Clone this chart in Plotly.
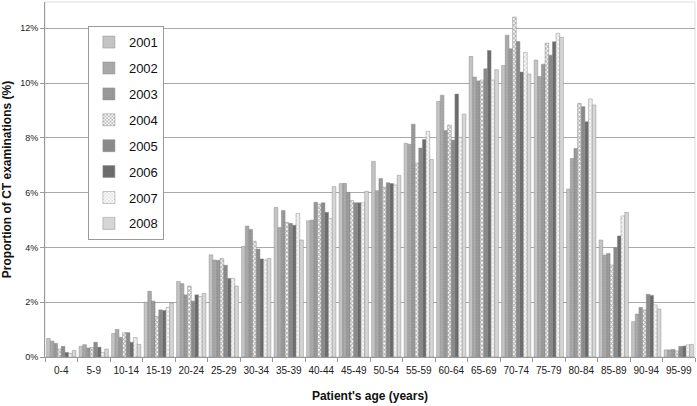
import plotly.graph_objects as go

# --- Datos ---
grupos_edad = ["0-4", "5-9", "10-14", "15-19", "20-24", "25-29", "30-34", "35-39", "40-44", "45-49",
               "50-54", "55-59", "60-64", "65-69", "70-74", "75-79", "80-84", "85-89", "90-94", "95-99"]

y2001 = [0.68, 0.39, 0.86, 2.00, 2.76, 3.73, 4.04, 5.46, 4.97, 6.33, 7.14, 7.80, 9.33, 10.97, 10.64, 10.84, 6.13, 4.27, 1.29, 0.26]
y2002 = [0.58, 0.45, 1.01, 2.40, 2.68, 3.54, 4.78, 4.73, 5.00, 6.34, 6.07, 7.77, 9.56, 10.22, 11.75, 10.24, 7.25, 3.72, 1.57, 0.26]
y2003 = [0.50, 0.33, 0.72, 2.04, 2.27, 3.53, 4.66, 5.35, 5.65, 6.01, 6.52, 8.50, 8.27, 10.08, 11.25, 10.69, 7.61, 3.78, 1.81, 0.28]
y2004 = [0.29, 0.35, 0.89, 1.48, 2.59, 3.60, 4.22, 4.91, 5.58, 5.71, 6.20, 7.08, 8.47, 10.11, 12.41, 11.46, 9.26, 3.36, 1.72, 0.22]
y2005 = [0.39, 0.54, 0.89, 1.72, 2.04, 3.35, 3.94, 4.88, 5.63, 5.63, 6.36, 7.63, 7.92, 10.52, 11.52, 11.02, 9.14, 3.99, 2.29, 0.39]
y2006 = [0.17, 0.36, 0.54, 1.70, 2.27, 2.87, 3.58, 4.81, 5.28, 5.63, 6.33, 7.94, 9.60, 11.19, 10.40, 11.51, 8.59, 4.42, 2.25, 0.40]
y2007 = [0.13, 0.16, 0.71, 1.81, 2.21, 2.87, 3.54, 5.24, 5.06, 5.63, 6.28, 8.24, 8.02, 10.11, 11.12, 11.82, 9.42, 5.15, 1.90, 0.44]
y2008 = [0.24, 0.29, 0.46, 1.97, 2.32, 2.59, 3.60, 4.27, 6.22, 6.05, 6.63, 7.21, 8.87, 10.49, 10.33, 11.67, 9.20, 5.28, 1.75, 0.46]

anios = ["2001", "2002", "2003", "2004", "2005", "2006", "2007", "2008"]
series = [y2001, y2002, y2003, y2004, y2005, y2006, y2007, y2008]

# --- Estilos (gris + tramas) ---
estilos = {
    "2001": dict(color="#c4c4c4", pattern=dict(shape="")),
    "2002": dict(color="#ababab", pattern=dict(shape=".", fgcolor="#9a9a9a", size=3, solidity=0.3)),
    "2003": dict(color="#9c9c9c", pattern=dict(shape=".", fgcolor="#858585", size=3, solidity=0.4)),
    "2004": dict(color="#ffffff", pattern=dict(shape="x", fgcolor="#555555", bgcolor="#ffffff", size=3, solidity=0.5)),
    "2005": dict(color="#8a8a8a", pattern=dict(shape="")),
    "2006": dict(color="#6f6f6f", pattern=dict(shape=".", fgcolor="#5a5a5a", size=3, solidity=0.4)),
    "2007": dict(color="#ffffff", pattern=dict(shape="x", fgcolor="#b5b5b5", bgcolor="#ffffff", size=3, solidity=0.5)),
    "2008": dict(color="#d6d6d6", pattern=dict(shape="")),
}

fig = go.Figure()
for anio, valores in zip(anios, series):
    est = estilos[anio]
    fig.add_trace(go.Bar(x=grupos_edad, y=valores, name=anio, legendgroup=anio,
                         marker=dict(color=est["color"], pattern=est["pattern"],
                                     line=dict(color="#8c8c8c", width=0.5))))

fig.update_layout(
    width=697, height=406,
    margin=dict(l=45, r=2, t=2, b=49),
    paper_bgcolor="white", plot_bgcolor="white",
    barmode="group", bargap=0.1, bargroupgap=0,
    font=dict(family="Arial, Liberation Sans, sans-serif", color="#222", size=10),
    legend=dict(x=0.066, y=0.932, xanchor="left", yanchor="top",
                bordercolor="#9a9a9a", borderwidth=1, bgcolor="white",
                font=dict(size=13, color="#111"), tracegroupgap=6, itemwidth=30),
    shapes=[dict(type="rect", xref="paper", yref="paper", x0=0, x1=1, y0=0, y1=1,
                 line=dict(color="#dddddd", width=1), layer="below")],
)
fig.update_xaxes(
    title=dict(text="Patient's age (years)", font=dict(size=12, weight="bold", color="#111"), standoff=16),
    showline=True, linecolor="#999", ticks="outside", tickson="boundaries", ticklen=4, tickcolor="#999",
    tickfont=dict(size=10, color="#222"), tickangle=0, automargin=False, ticklabelstandoff=4,
)
fig.update_yaxes(
    title=dict(text="Proportion of CT examinations (%)", font=dict(size=12, weight="bold", color="#111"), standoff=8),
    range=[0, 12.96], dtick=2, ticksuffix="%", showgrid=True, gridcolor="#a8a8a8", gridwidth=1,
    showline=True, linecolor="#999", ticks="outside", ticklen=4, tickcolor="#999",
    tickfont=dict(size=9, color="#222"), zeroline=False, automargin=False,
)

# quitar el margen del body para que la figura ocupe la ventana
fig.write_html("out.html", config={"displayModeBar": False},
               post_script="document.body.style.margin='0';")
